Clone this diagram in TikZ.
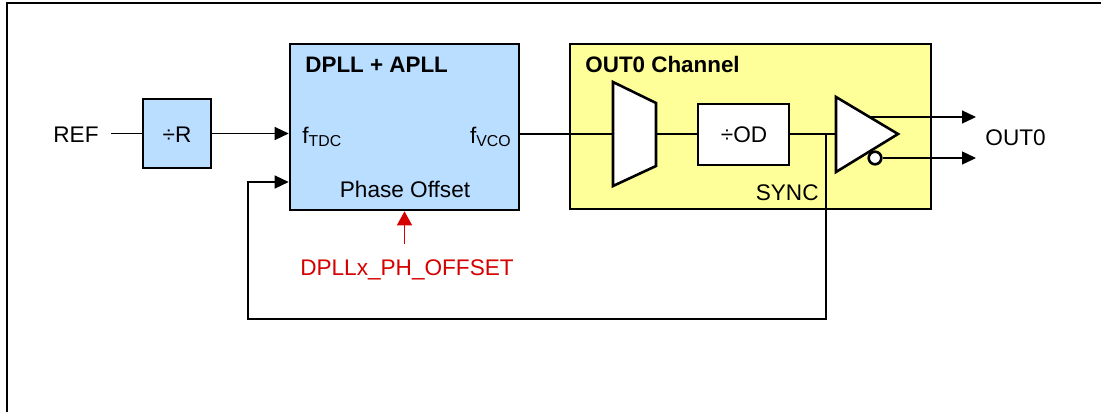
\documentclass[tikz,border=0pt]{standalone}
\usepackage{fontspec}
\setmainfont{Liberation Sans}
\usetikzlibrary{arrows.meta,positioning,calc}
\definecolor{blkblue}{RGB}{185,222,255}
\definecolor{chyellow}{RGB}{255,255,153}
\definecolor{regred}{RGB}{214,0,0}

\begin{document}
\begin{tikzpicture}[
  x=0.5pt,y=-0.5pt,
  font=\fontsize{11.3}{13}\selectfont,
  blk/.style={draw,line width=1.3pt,fill=#1,inner sep=0pt},
  gate/.style={draw,line width=1.3pt,fill=white},
  lbl/.style={inner sep=0pt},
  ttl/.style={inner sep=0pt,anchor=base west,font=\fontsize{11.2}{13}\selectfont\bfseries},
  wire/.style={line width=0.65pt},
  arr/.style={wire,-{Triangle[length=7pt,width=6.5pt]}}
]
\useasboundingbox (0,0) rectangle (1101,412);
\draw[line width=1pt] (6.8,412) |- (1101,3.2);

% ---------- reference input and DPLL
\node[lbl,anchor=base] (ref) at (76,142.7) {REF};
\node[blk=blkblue,minimum width=34pt,minimum height=34.5pt] (divr) at (177,133.5) {};
\node[lbl,anchor=base] (divrtxt) at (177,142.3) {÷R};
\node[blk=blkblue,minimum width=114.5pt,minimum height=83pt] (pll) at (404.5,127) {};
\node[ttl] (plltitle) at (305,72) {DPLL + APLL};
\node[lbl,anchor=base west] (ftdc) at (302,143) {f\textsubscript{TDC}};
\node[lbl,anchor=base east] (fvco) at (512,143) {f\textsubscript{VCO}};
\node[lbl,anchor=base] (phoff) at (405,197) {Phase Offset};
\node[lbl,anchor=base,text=regred] (phreg) at (407,275) {DPLLx\_PH\_OFFSET};

\draw[wire,shorten <=6pt] (divr.west -| ref.east) -- (divr.west);
\draw[arr] (divr.east) -- (divr.east -| pll.west);
\draw[wire,regred,-{Triangle[length=7pt,width=7.5pt]}] (pll.south) ++(0,33) -- (pll.south);

% ---------- output channel
\node[blk=chyellow,minimum width=180.5pt,minimum height=82.5pt] (ch) at (750.5,126.5) {};
\node[ttl] (chtitle) at (585,72) {OUT0 Channel};
\draw[gate] (613,82) -- (656,103) -- (656,166) -- (613,186) -- cycle;
\coordinate (muxin) at (613,134);
\coordinate (muxout) at (656,134);
\node[blk=white,minimum width=45.5pt,minimum height=30.5pt] (od) at (743.5,134.5) {};
\node[lbl,anchor=base] (odtxt) at (744,142) {÷OD};
\draw[gate] (836,97) -- (898,134) -- (836,172) -- cycle;
\node[circle,draw,line width=1.3pt,fill=white,inner sep=0pt,minimum size=6.3pt] (bub) at (875,158) {};
\coordinate (bufin) at (836,134);
\coordinate (bufp) at (869.5,117);
\coordinate (sync) at (826,134);
\coordinate (outp) at (976,117);
\coordinate (outn) at (976,158);
\node[lbl,anchor=base east] (synctxt) at (819,200.5) {SYNC};
\node[lbl,anchor=base west] (out) at (985,145) {OUT0};

\draw[wire] (pll.east |- muxin) -- (muxin);
\draw[wire] (muxout) -- (od.west |- muxout);
\draw[wire] (od.east |- muxout) -- (bufin);
\draw[arr] (bufp) -- (outp);
\draw[arr] (bub.east) -- (outn);

% ---------- SYNC feedback
\coordinate (fbk) at (248,319);
\coordinate (fbin) at ($(pll.west)+(0,55)$);
\draw[arr] (sync) |- (fbk) |- (fbin);
\end{tikzpicture}
\end{document}
